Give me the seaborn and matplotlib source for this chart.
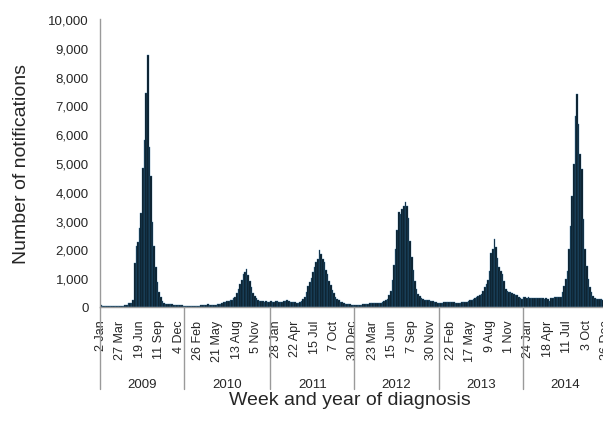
import matplotlib
matplotlib.use("Agg")
import matplotlib.pyplot as plt
import seaborn as sns
import pandas as pd
from matplotlib.transforms import blended_transform_factory

# weekly notifications, one list per year (weeks ending Friday)
counts_2009 = [60, 40, 30, 30, 30, 30, 30, 30, 30, 30, 35, 35, 40, 40, 45,
               60, 80, 130, 150, 140, 260,
               1520, 2110, 2250, 2730, 3260, 4830, 5810, 7420, 8750, 5550, 4560,
               2960, 2130, 1380, 860, 530, 340,
               210, 150, 120, 110, 100, 100, 90, 80, 80, 70, 60, 60, 55, 50]
counts_2010 = [50, 45, 40, 40, 40, 40, 45, 45, 50, 50, 55, 60, 65, 70, 90, 80,
               70, 70, 70, 80, 90, 100, 120, 140, 160, 180, 200, 220,
               230, 260, 300, 340, 480, 620, 800, 940, 1150, 1230, 1320, 1100,
               900, 680, 490, 370, 300, 240, 210, 200, 210, 190, 200, 190, 180]
counts_2011 = [200, 190, 180, 210, 200, 190, 190, 180, 200, 210, 230, 210, 190,
               180, 170, 160, 150, 150, 170,
               200, 280, 360, 510, 740, 880, 1000, 1200, 1400, 1560, 1650, 1990,
               1840, 1670, 1550, 1300, 1150, 910, 760, 600, 480, 340, 280, 250,
               190, 160, 140, 120, 110, 100, 90, 80, 70]
counts_2012 = [60, 60, 70, 70, 80, 90, 100, 110, 120, 130, 130, 140, 130, 140,
               140, 130, 150, 170, 200, 230,
               280, 420, 570, 950, 1460, 2010, 2690, 3290, 3230, 3400, 3520, 3630,
               3500, 3080, 2300, 1730, 1300, 910, 620, 450, 390, 300, 270, 260,
               250, 240, 230, 220, 200, 190, 170, 150]
counts_2013 = [130, 140, 150, 160, 160, 170, 170, 180, 180, 170, 150, 140, 130,
               140, 160, 170, 180, 190, 210, 230, 250, 270, 300, 330,
               380, 420, 450, 570, 680, 800, 950, 1260, 1880, 2010, 2360, 2100,
               1690, 1380, 1250, 1150, 910, 630, 570, 530, 510, 490, 440, 420,
               420, 340, 300, 280]
counts_2014 = [340, 330, 320, 330, 320, 310, 300, 310, 300, 320, 310, 300, 310,
               280, 300, 270, 220, 300, 320, 330, 340, 330, 330,
               340, 510, 740, 970, 1260, 2010, 2820, 3870, 4970, 6640, 7400, 6350,
               5310, 4790, 3060, 2010, 1430, 970, 680, 510, 370, 300, 290, 280,
               290, 270, 260, 250, 240]

years = [2009, 2010, 2011, 2012, 2013, 2014]
counts = counts_2009 + counts_2010 + counts_2011 + counts_2012 + counts_2013 + counts_2014

week_dates = pd.date_range("2009-01-02", periods=len(counts), freq="7D")
df = pd.DataFrame({"week": range(len(counts)), "count": counts, "date": week_dates})

sns.set_style("white")
plt.rcParams["font.family"] = ["Liberation Sans", "DejaVu Sans"]

fig = plt.figure(figsize=(6.03, 4.27), dpi=100)
ax = fig.add_axes([100 / 603, 119 / 427, 507 / 603, 288 / 427])

sns.barplot(data=df, x="week", y="count", native_scale=True, width=1.0,
            color="#081620", saturation=1, edgecolor="#2c6d99", linewidth=0.25,
            errorbar=None, ax=ax)

ax.set_xlim(-0.5, len(counts) - 0.5)
ax.set_ylim(0, 10000)
ax.set_yticks(range(0, 10001, 1000))
ax.set_yticklabels([f"{v:,}" for v in range(0, 10001, 1000)])

grey = "#9a9a9a"
for s in ["top", "right"]:
    ax.spines[s].set_visible(False)
for s in ["left", "bottom"]:
    ax.spines[s].set_color(grey)
    ax.spines[s].set_linewidth(1.0)

ax.tick_params(axis="y", length=4, color=grey, direction="out", labelsize=9.5, pad=4)

# date labels every 12 weeks, minor ticks every 2 weeks
label_weeks = list(range(0, len(counts), 12))
ax.set_xticks(label_weeks)
ax.set_xticklabels([f"{d.day} {d.strftime('%b')}" for d in df["date"].iloc[label_weeks]],
                   rotation=90)
ax.set_xticks(range(0, len(counts), 2), minor=True)
ax.tick_params(axis="x", which="both", length=3, color=grey, direction="out",
               labelsize=9, pad=6)

# year groups under the date labels
trans = blended_transform_factory(ax.transData, ax.transAxes)
year_of_week = df["date"].dt.year
edges = []
for y in years:
    idx = df.index[year_of_week == y]
    edges.append((idx[0] - 0.5, idx[-1] + 0.5))
for start, end in edges:
    ax.plot([start, start], [0, -0.285], transform=trans, color=grey, lw=1.0, clip_on=False)
for y, (start, end) in zip(years, edges):
    ax.text((start + end) / 2, -0.268, str(y), transform=trans, ha="center",
            va="center", fontsize=9.5)

ax.set_xlabel("")
ax.set_ylabel("Number of notifications", fontsize=14)
ax.yaxis.set_label_coords(-0.138, 0.5)
fig.text(350 / 603, 1 - 401 / 427, "Week and year of diagnosis", ha="center",
         va="center", fontsize=14)

fig.savefig("out.png", dpi=100)
